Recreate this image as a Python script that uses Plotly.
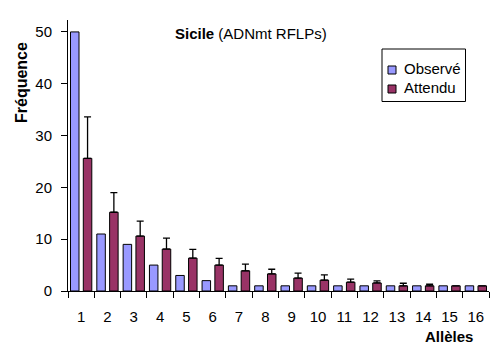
import plotly.graph_objects as go

alleles = [str(i) for i in range(1, 17)]
observe = [50, 11, 9, 5, 3, 2, 1, 1, 1, 1, 1, 1, 1, 1, 1, 1]
attendu = [25.6, 15.2, 10.6, 8.1, 6.35, 5.0, 3.9, 3.3, 2.5, 2.1, 1.7, 1.55, 1.0, 1.0, 1.0, 1.0]
attendu_err = [8.0, 3.8, 2.9, 2.1, 1.7, 1.3, 1.3, 0.9, 0.95, 1.0, 0.6, 0.4, 0.5, 0.3, 0, 0]
series_names = ["Observé", "Attendu"]
series_colors = ["#9999FF", "#993366"]

FONT = "Liberation Sans, Arial, sans-serif"

fig = go.Figure()
fig.add_trace(go.Bar(
    x=alleles, y=observe, name=series_names[0], showlegend=False,
    marker=dict(color=series_colors[0], line=dict(color="black", width=1)),
))
fig.add_trace(go.Bar(
    x=alleles, y=attendu, name=series_names[1], showlegend=False,
    marker=dict(color=series_colors[1], line=dict(color="black", width=1)),
    error_y=dict(type="data", array=attendu_err, arrayminus=[0] * len(attendu_err),
                 symmetric=False, color="black", thickness=1.3, width=3.5),
))

L, R, T, B = 68, 15, 20, 69
W, H = 504, 360
pw, ph = W - L - R, H - T - B

def px(x):
    return (x - L) / pw

def py(y):
    return (H - B - y) / ph

shapes = [
    dict(type="rect", xref="paper", yref="paper", x0=px(382), x1=px(465.5),
         y0=py(101.5), y1=py(49), line=dict(color="black", width=1), fillcolor="white"),
]
annotations = [
    dict(text="<b>Sicile</b> (ADNmt RFLPs)", x=px(251), y=py(34), xref="paper", yref="paper",
         xanchor="center", yanchor="middle", showarrow=False, font=dict(size=15)),
    dict(text="<b>Fréquence</b>", x=px(21.5), y=py(82.5), xref="paper", yref="paper",
         xanchor="center", yanchor="middle", textangle=-90, showarrow=False, font=dict(size=16)),
    dict(text="<b>Allèles</b>", x=px(448.5), y=py(336.5), xref="paper", yref="paper",
         xanchor="center", yanchor="middle", showarrow=False, font=dict(size=15)),
]
for i, (name, col) in enumerate(zip(series_names, series_colors)):
    yc = 70 + 19 * i
    shapes.append(dict(type="rect", xref="paper", yref="paper", x0=px(388), x1=px(396),
                       y0=py(yc + 4), y1=py(yc - 4), line=dict(color="black", width=1),
                       fillcolor=col))
    annotations.append(dict(text=name, x=px(402), y=py(yc - 1.5), xref="paper", yref="paper",
                            xanchor="left", yanchor="middle", showarrow=False,
                            font=dict(size=15)))

fig.update_layout(
    width=W, height=H,
    margin=dict(l=L, r=R, t=T, b=B, pad=0, autoexpand=False),
    paper_bgcolor="white", plot_bgcolor="white",
    font=dict(family=FONT, size=15, color="black"),
    barmode="group", bargap=0.027, bargroupgap=0.336,
    showlegend=False,
    xaxis=dict(type="category", showline=True, linecolor="black", linewidth=1,
               ticks="outside", ticklen=6, tickcolor="black", tickwidth=1,
               tickson="boundaries", showgrid=False, zeroline=False, automargin=False,
               tickfont=dict(size=15), ticklabelstandoff=12),
    yaxis=dict(range=[0, 52.3], dtick=10, showline=True, linecolor="black", linewidth=1,
               ticks="outside", ticklen=6, tickcolor="black", tickwidth=1,
               showgrid=False, zeroline=False, automargin=False, tickfont=dict(size=15),
               ticklabelstandoff=6),
    shapes=shapes,
    annotations=annotations,
)

fig.write_html("out.html", config={"displayModeBar": False},
               post_script="document.body.style.margin='0';document.body.style.padding='0';")
